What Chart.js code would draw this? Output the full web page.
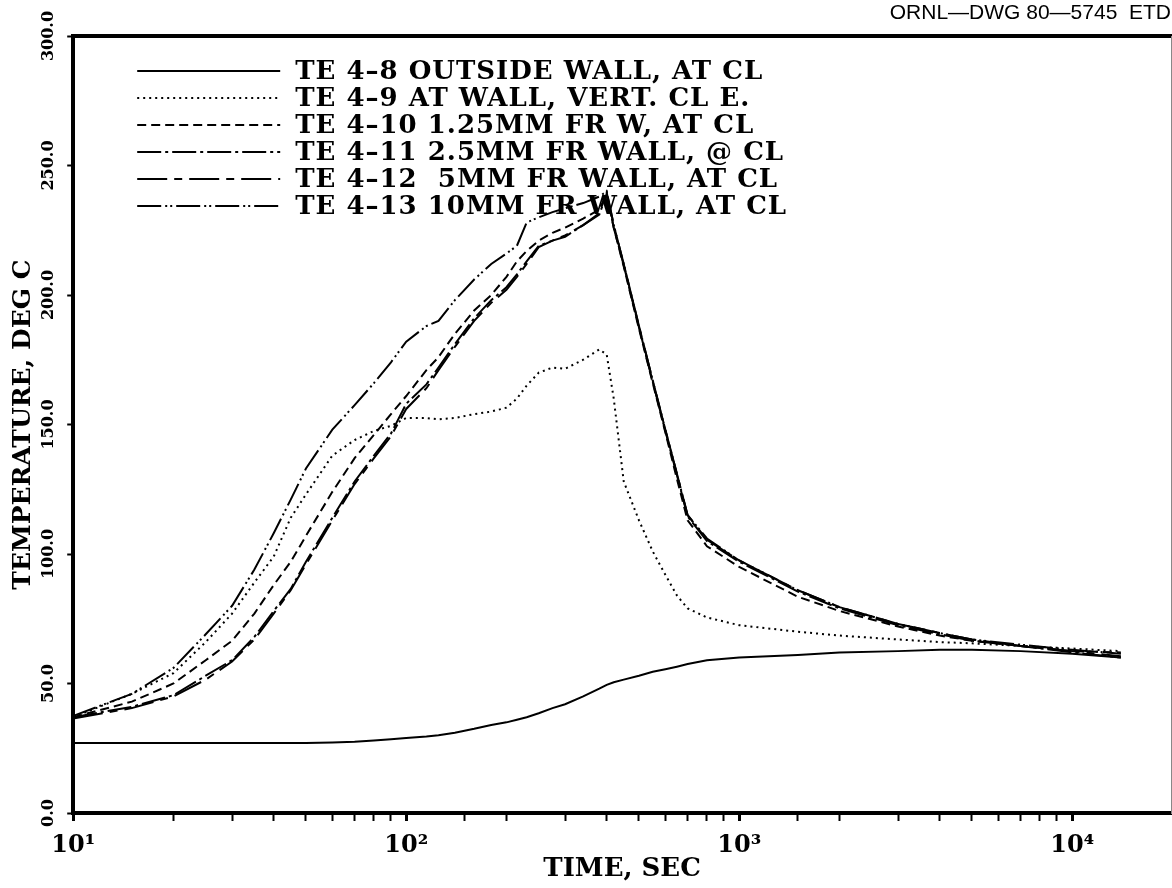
<!DOCTYPE html>
<html>
<head>
<meta charset="utf-8">
<title>TE 4 thermocouple temperatures</title>
<script src="https://cdn.jsdelivr.net/npm/chart.js@4.4.1/dist/chart.umd.min.js"></script>
<style>
  html, body { margin: 0; padding: 0; background: #fff; }
  #wrap { width: 1172px; height: 888px; }
</style>
</head>
<body>
<div id="wrap"><canvas id="tempChart"></canvas></div>
<script>
// time after start, sec
const timeSec = [10, 15, 20, 25, 30, 35, 40, 45, 50, 60, 70, 80, 90, 100, 115, 125, 140, 160, 180, 200,
  215, 230, 250, 275, 300, 340, 380, 400, 420, 450, 500, 550, 600, 650, 700, 800, 1000, 1500, 2000, 3000,
  4000, 5000, 7000, 10000, 14000];

// temperatures, deg C
const te48 = [27, 27, 27, 27, 27, 27, 27, 27, 27, 27.2, 27.5, 28, 28.5, 29, 29.5, 30, 31, 32.5, 34, 35,
  36, 37, 38.5, 40.5, 42, 45, 48, 49.5, 50.5, 51.5, 53, 54.5, 55.5, 56.5, 57.5, 59, 60, 61, 62, 62.5,
  63, 63, 62.5, 61.5, 60];
const te49 = [37, 46, 54, 66, 77, 89, 99, 114, 123, 138, 144, 147.5, 149.5, 152.5, 152.5, 152, 152.5, 154, 155, 156.5,
  160, 165, 170, 172, 171.5, 175, 179, 177, 160, 128, 113, 101, 92, 84, 79, 75.5, 72.5, 70, 68.5, 67,
  66, 65.5, 64.5, 63.5, 62.5];
const te410 = [37, 43, 50, 59, 66.5, 77, 88, 97, 107, 124, 137, 146, 154, 161, 171, 176, 185, 194, 200, 207,
  213, 217, 221, 224, 226, 229.5, 233, 239, 226, 211, 187, 166, 147, 129, 113, 103, 95, 83.5, 78, 72,
  68.5, 66.5, 64.5, 62.5, 62];
const te411 = [37, 41, 45.5, 53, 59, 68, 78, 86.5, 97, 114, 128, 138, 146.5, 158, 165.5, 172, 181, 191, 198, 203,
  208, 213, 219, 221, 222.5, 227, 231, 239, 226, 211.5, 187.5, 166.5, 147.5, 130.5, 114.5, 105, 97, 85.5, 79, 72.5,
  69, 66.5, 64.5, 62, 60];
const te412 = [36.5, 40.5, 45, 51.5, 58.5, 67, 77, 86, 96, 113, 127, 137, 145.5, 156, 164, 171, 180, 190, 197, 202,
  207, 212, 218.5, 221, 223, 227, 231.5, 239.5, 227, 212, 188, 167, 148, 131, 115, 105.5, 97.5, 86, 79.5, 73,
  69.5, 67, 64.5, 62.5, 60.5];
const te413 = [37.5, 46, 56, 69, 80, 94, 108, 121, 133, 148, 157.5, 166, 174, 182, 188, 190, 198, 206, 212, 216,
  219, 228, 230, 232, 233.5, 235.5, 238, 240, 227, 212, 188, 167, 148, 131, 115, 106, 97.5, 86, 79.5, 73,
  69.5, 67, 65, 63, 61.5];

const seriesLabels = [
  'TE 4–8 OUTSIDE WALL, AT CL',
  'TE 4–9 AT WALL, VERT. CL E.',
  'TE 4–10 1.25MM FR W, AT CL',
  'TE 4–11 2.5MM FR WALL, @ CL',
  'TE 4–12  5MM FR WALL, AT CL',
  'TE 4–13 10MM FR WALL, AT CL'
];
const decadeLabels = { 10: '10¹', 100: '10²', 1000: '10³', 10000: '10⁴' };

const serif = 'DejaVu Serif';

function points(values) {
  return timeSec.map((t, i) => ({ x: t, y: values[i] }));
}

function curve(idx, values, dash) {
  return {
    label: seriesLabels[idx],
    data: points(values),
    borderColor: '#000',
    backgroundColor: '#000',
    borderWidth: 2,
    borderDash: dash,
    pointRadius: 0,
    tension: 0,
    fill: false
  };
}

// key drawn inside the plot: line sample + label for each curve
const lineKey = {
  id: 'lineKey',
  afterDatasetsDraw(chart) {
    const { ctx, chartArea } = chart;
    const x0 = chartArea.left + 64;
    ctx.save();
    ctx.font = 'bold 26px "' + serif + '"';
    ctx.letterSpacing = '1px';
    ctx.textBaseline = 'middle';
    ctx.fillStyle = '#000';
    ctx.strokeStyle = '#000';
    ctx.lineWidth = 2;
    chart.data.datasets.forEach((ds, i) => {
      const y = chartArea.top + 35 + i * 27;
      ctx.beginPath();
      ctx.setLineDash(ds.borderDash || []);
      ctx.moveTo(x0, y);
      ctx.lineTo(x0 + 143, y);
      ctx.stroke();
      ctx.setLineDash([]);
      ctx.fillText(ds.label, x0 + 158, y + 1);
    });
    ctx.restore();
  }
};

new Chart(document.getElementById('tempChart'), {
  type: 'line',
  data: {
    datasets: [
      curve(0, te48, []),
      curve(1, te49, [2, 4]),
      curve(2, te410, [9, 5]),
      curve(3, te411, [24, 4, 3, 4]),
      curve(4, te412, [30, 7, 8, 7]),
      curve(5, te413, [24, 4, 2, 3, 2, 4])
    ]
  },
  options: {
    responsive: true,
    maintainAspectRatio: false,
    animation: false,
    layout: { padding: { left: 8, right: 1, top: 0, bottom: 1 } },
    plugins: {
      legend: { display: false },
      tooltip: { enabled: false },
      title: {
        display: true,
        text: 'ORNL—DWG 80—5745  ETD',
        align: 'end',
        color: '#000',
        font: { family: 'Liberation Sans', size: 21, weight: 'normal', lineHeight: 1 },
        padding: { top: 3, bottom: 12 }
      }
    },
    scales: {
      x: {
        type: 'logarithmic',
        position: 'bottom',
        min: 10,
        max: 19800,
        afterBuildTicks: axis => { axis.ticks = axis.ticks.filter(t => t.value <= 10000); },
        border: { display: true, color: '#000', width: 4 },
        grid: {
          drawOnChartArea: false,
          tickLength: 8,
          tickColor: '#000',
          tickWidth: c => (decadeLabels[c.tick && c.tick.value] ? 3 : 2)
        },
        ticks: {
          autoSkip: false,
          maxRotation: 0,
          padding: 13,
          color: '#000',
          font: { family: serif, size: 24, weight: 'bold', lineHeight: 1 },
          callback: v => decadeLabels[v] || ''
        },
        title: {
          display: true,
          text: 'TIME, SEC',
          color: '#000',
          font: { family: serif, size: 26, weight: 'bold', lineHeight: 1 },
          padding: { top: -15, bottom: 5 }
        }
      },
      xTop: {
        type: 'linear',
        position: 'top',
        min: 0,
        max: 1,
        border: { display: true, color: '#000', width: 4 },
        grid: { display: false, drawTicks: false },
        ticks: { display: false }
      },
      y: {
        min: 0,
        max: 300,
        border: { display: true, color: '#000', width: 4 },
        grid: { drawOnChartArea: false, tickLength: 6, tickColor: '#000', tickWidth: 2 },
        ticks: {
          stepSize: 50,
          minRotation: 90,
          maxRotation: 90,
          crossAlign: 'center',
          padding: -7,
          color: '#000',
          font: { family: serif, size: 16, weight: 'bold' },
          callback: v => v.toFixed(1)
        },
        title: {
          display: true,
          text: 'TEMPERATURE, DEG C',
          color: '#000',
          font: { family: serif, size: 25, weight: 'bold' },
          padding: { top: 0, bottom: 24 }
        }
      },
      yRight: {
        position: 'right',
        min: 0,
        max: 1,
        border: { display: true, color: '#888', width: 1 },
        grid: { display: false, drawTicks: false },
        ticks: { display: false }
      }
    }
  },
  plugins: [lineKey]
});
</script>
</body>
</html>
